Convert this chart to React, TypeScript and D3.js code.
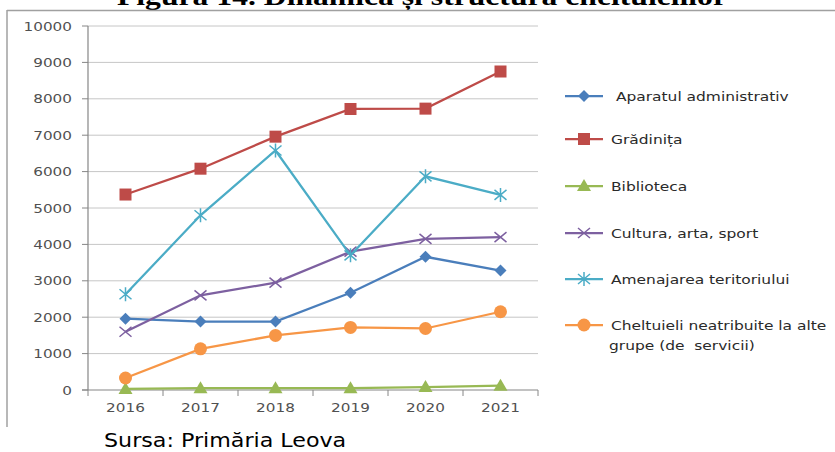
import React from "react";
import * as d3 from "d3";

const years = ["2016", "2017", "2018", "2019", "2020", "2021"];
const yTicks = [0, 1000, 2000, 3000, 4000, 5000, 6000, 7000, 8000, 9000, 10000];

const seriesNames = [
  " Aparatul administrativ",
  "Grădinița",
  "Biblioteca",
  "Cultura, arta, sport",
  "Amenajarea teritoriului",
  "Cheltuieli neatribuite la alte",
];
const aparatul = [1960, 1880, 1880, 2670, 3660, 3280];
const gradinita = [5370, 6080, 6960, 7720, 7730, 8750];
const biblioteca = [30, 50, 50, 50, 80, 120];
const cultura = [1600, 2600, 2950, 3800, 4150, 4200];
const amenajarea = [2630, 4800, 6580, 3700, 5870, 5360];
const cheltuieli = [330, 1130, 1500, 1720, 1690, 2150];

const colors = ["#4a7ebb", "#be4b48", "#98b954", "#7d60a0", "#4bacc6", "#f79646"];
const markers = ["diamond", "square", "triangle", "x", "star", "circle"];

function Marker({ type, x, y, color }: { type: string; x: number; y: number; color: string }) {
  switch (type) {
    case "diamond":
      return <path d={`M${x},${y - 6}L${x + 6},${y}L${x},${y + 6}L${x - 6},${y}Z`} fill={color} />;
    case "square":
      return <rect x={x - 6} y={y - 6} width={12} height={12} fill={color} />;
    case "triangle":
      return <path d={`M${x},${y - 7}L${x + 7},${y + 5}L${x - 7},${y + 5}Z`} fill={color} />;
    case "x":
      return (
        <path d={`M${x - 6},${y - 5}L${x + 6},${y + 5}M${x - 6},${y + 5}L${x + 6},${y - 5}`} stroke={color} strokeWidth={1.5} fill="none" />
      );
    case "star":
      return (
        <path
          d={`M${x - 6},${y - 5}L${x + 6},${y + 5}M${x - 6},${y + 5}L${x + 6},${y - 5}M${x},${y - 7}L${x},${y + 7}`}
          stroke={color}
          strokeWidth={1.5}
          fill="none"
        />
      );
    default:
      return <circle cx={x} cy={y} r={6.5} fill={color} />;
  }
}

export default function App() {
  const data = [aparatul, gradinita, biblioteca, cultura, amenajarea, cheltuieli];
  const x = d3.scalePoint<string>().domain(years).range([88, 538]).padding(0.5);
  const y = d3.scaleLinear().domain([0, 10000]).range([390, 26]);
  const step = x.step();
  const line = d3
    .line<number>()
    .x((_, i) => x(years[i]) as number)
    .y((v) => y(v));
  const font = "'DejaVu Sans', sans-serif";
  const legendY = [96, 139, 186, 233, 279, 325];

  return (
    <svg width={835} height={452} style={{ position: "absolute", left: 0, top: 0, background: "#fff" }}>
      <text
        x={117}
        y={5}
        fontFamily="'Liberation Serif', 'Times New Roman', serif"
        fontWeight="bold"
        fontSize={25}
        textLength={610}
        lengthAdjust="spacingAndGlyphs"
        fill="#000"
      >
        Figura 14. Dinamica și structura cheltuielilor
      </text>
      <line x1={7} x2={835} y1={10.5} y2={10.5} stroke="#a0a0a0" strokeWidth={1.5} />
      <line x1={7} x2={7} y1={10} y2={427} stroke="#a0a0a0" strokeWidth={1.5} />

      {yTicks.map((t) => (
        <g key={t}>
          {t > 0 && <line x1={88} x2={538} y1={y(t)} y2={y(t)} stroke="#c6c6c6" strokeWidth={1} />}
          <line x1={82} x2={88} y1={y(t)} y2={y(t)} stroke="#868686" />
          <text
            transform={`translate(72,${y(t) + 4.5}) scale(1.22,1)`}
            textAnchor="end"
            fontFamily={font}
            fontSize={12.5}
            fill="#505050"
          >
            {t}
          </text>
        </g>
      ))}
      <line x1={88} x2={88} y1={26} y2={390} stroke="#868686" strokeWidth={1.2} />
      <line x1={82} x2={538} y1={390} y2={390} stroke="#868686" strokeWidth={1.2} />
      {d3.range(years.length + 1).map((i) => (
        <line key={i} x1={88 + i * step} x2={88 + i * step} y1={390} y2={396} stroke="#868686" />
      ))}
      {years.map((yr) => (
        <text
          key={yr}
          transform={`translate(${x(yr)},412) scale(1.22,1)`}
          textAnchor="middle"
          fontFamily={font}
          fontSize={12.5}
          fill="#505050"
        >
          {yr}
        </text>
      ))}

      {data.map((vals, s) => (
        <g key={s}>
          <path d={line(vals) || ""} fill="none" stroke={colors[s]} strokeWidth={2.25} />
          {vals.map((v, i) => (
            <Marker key={i} type={markers[s]} x={x(years[i]) as number} y={y(v)} color={colors[s]} />
          ))}
        </g>
      ))}

      {seriesNames.map((n, s) => (
        <g key={n}>
          <line x1={565} x2={603} y1={legendY[s]} y2={legendY[s]} stroke={colors[s]} strokeWidth={2.25} />
          <Marker type={markers[s]} x={584} y={legendY[s]} color={colors[s]} />
          <text
            transform={`translate(611,${legendY[s] + 4.5}) scale(1.19,1)`}
            fontFamily={font}
            fontSize={13}
            fill="#2a2a2a"
            style={{ whiteSpace: "pre" }}
          >
            {n}
          </text>
        </g>
      ))}
      <text
        transform={`translate(609,${legendY[5] + 25}) scale(1.19,1)`}
        fontFamily={font}
        fontSize={13}
        fill="#2a2a2a"
        style={{ whiteSpace: "pre" }}
      >
        grupe (de  servicii)
      </text>

      <text transform="translate(104,447) scale(1.11,1)" fontFamily={font} fontSize={20} fill="#000">
        Sursa: Primăria Leova
      </text>
    </svg>
  );
}
